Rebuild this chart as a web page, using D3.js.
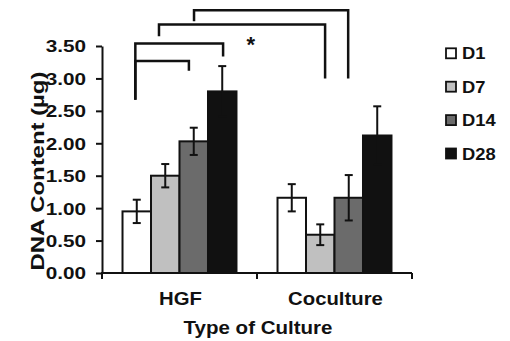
<!DOCTYPE html>
<html><head><meta charset="utf-8">
<script src="https://cdn.jsdelivr.net/npm/d3@7"></script>
<style>
body{margin:0;background:#fff;}
text{font-family:"Liberation Sans",Arial,sans-serif;font-weight:bold;fill:#111;}
</style></head>
<body><svg id="c" width="510" height="341"></svg>
<script>
const categories = ["HGF", "Coculture"];
const series = ["D1", "D7", "D14", "D28"];
const colors = ["#ffffff", "#c0c0c0", "#6b6b6b", "#111111"];
const hgfValues = [0.95, 1.50, 2.03, 2.80];
const hgfErrors = [0.18, 0.18, 0.21, 0.39];
const cocultureValues = [1.16, 0.59, 1.16, 2.12];
const cocultureErrors = [0.21, 0.16, 0.35, 0.45];
const yTicks = [0, 0.5, 1, 1.5, 2, 2.5, 3, 3.5];
const yTitle = "DNA Content (µg)";
const xTitle = "Type of Culture";
// significance brackets: positions given as [category, bar-slot index], heights in data units
const brackets = [
  {from:["HGF",0.45], to:["HGF",2.33], top:3.27, fromEnd:2.67, toEnd:3.12},
  {from:["HGF",0.45], to:["HGF",3.53], top:3.54, fromEnd:2.67, toEnd:3.34},
  {from:["HGF",1.28], to:["Coculture",1.67], top:3.83, fromEnd:3.65, toEnd:3.00},
  {from:["HGF",2.51], to:["Coculture",2.48], top:4.05, fromEnd:3.88, toEnd:3.00}
];
const starLabel = {text:"*", at:["HGF",4.5], y:3.41};

const values = {HGF: hgfValues, Coculture: cocultureValues};
const errors = {HGF: hgfErrors, Coculture: cocultureErrors};

const svg = d3.select("#c");
const y = d3.scaleLinear().domain([0, 3.5]).range([273, 46]);
const x0 = d3.scaleBand().domain(categories).range([102, 412]).padding(0);
const x1 = d3.scaleBand().domain(series).range([0, x0.bandwidth()]).paddingInner(0).paddingOuter(0.72);
const slotX = (c, i) => x0(c) + x1(series[0]) + i * x1.step();

// bars
const g = svg.append("g");
categories.forEach(c => {
  series.forEach((s, i) => {
    const v = values[c][i], e = errors[c][i];
    const bx = x0(c) + x1(s);
    g.append("rect").attr("x", bx).attr("y", y(v)).attr("width", x1.bandwidth()).attr("height", y(0) - y(v))
      .attr("fill", colors[i]).attr("stroke", "#111").attr("stroke-width", 2);
    const cx = bx + x1.bandwidth() / 2;
    const eb = g.append("g").attr("stroke", "#111").attr("stroke-width", 2).attr("fill", "none");
    eb.append("line").attr("x1", cx).attr("x2", cx).attr("y1", y(v + e)).attr("y2", y(v - e));
    eb.append("line").attr("x1", cx - 4).attr("x2", cx + 4).attr("y1", y(v + e)).attr("y2", y(v + e));
    eb.append("line").attr("x1", cx - 4).attr("x2", cx + 4).attr("y1", y(v - e)).attr("y2", y(v - e));
  });
});

// y axis
const ya = svg.append("g").attr("transform", "translate(102,0)")
  .call(d3.axisLeft(y).tickValues(yTicks).tickFormat(d3.format(".2f")).tickSizeInner(6).tickSizeOuter(0).tickPadding(0));
ya.select(".domain").attr("stroke", "#111").attr("stroke-width", 2);
ya.selectAll(".tick line").attr("stroke", "#111").attr("stroke-width", 2);
ya.selectAll(".tick text").attr("x", 0).attr("font-size", 17).attr("font-family", null)
  .attr("transform", "translate(-16,0) scale(1.22,1)").attr("dy", "0.35em");

// x axis
const xa = svg.append("g");
xa.append("line").attr("x1", x0.range()[0] - 1).attr("x2", x0.range()[1]).attr("y1", y(0)).attr("y2", y(0))
  .attr("stroke", "#111").attr("stroke-width", 2);
const seps = categories.map(c => x0(c)).concat([x0.range()[1]]);
xa.selectAll(".sep").data(seps).join("line").attr("x1", d => d).attr("x2", d => d)
  .attr("y1", y(0)).attr("y2", y(0) + 6).attr("stroke", "#111").attr("stroke-width", 2);
xa.selectAll(".cat").data(categories).join("text")
  .attr("transform", d => `translate(${x0(d) + x0.bandwidth() / 2 + 1},305) scale(1.16,1)`)
  .attr("text-anchor", "middle").attr("font-size", 17.5).text(d => d);

// titles
svg.append("text").attr("transform", "translate(258,334) scale(1.08,1)").attr("text-anchor", "middle")
  .attr("font-size", 19).text(xTitle);
svg.append("text").attr("transform", "translate(43.5,171) rotate(-90) scale(1.33,1)").attr("text-anchor", "middle")
  .attr("font-size", 18).text(yTitle);

// brackets
const bg = svg.append("g").attr("stroke", "#111").attr("stroke-width", 2.5).attr("fill", "none");
brackets.forEach(b => {
  const xa_ = slotX(b.from[0], b.from[1]), xb_ = slotX(b.to[0], b.to[1]);
  bg.append("path").attr("d", d3.line()([[xa_, y(b.fromEnd)], [xa_, y(b.top)], [xb_, y(b.top)], [xb_, y(b.toEnd)]]));
});
svg.append("text").attr("x", slotX(starLabel.at[0], starLabel.at[1])).attr("y", y(starLabel.y))
  .attr("text-anchor", "middle").attr("font-size", 22).text(starLabel.text);

// legend
const lg = svg.append("g");
series.forEach((s, i) => {
  const cy = 53.3 + i * 33.4;
  lg.append("rect").attr("x", 446).attr("y", cy - 5).attr("width", 10).attr("height", 10)
    .attr("fill", colors[i]).attr("stroke", "#111").attr("stroke-width", 1.8);
  lg.append("text").attr("transform", `translate(462,${cy}) scale(1.08,1)`).attr("dy", "0.36em")
    .attr("font-size", 17).text(s);
});
</script></body></html>
